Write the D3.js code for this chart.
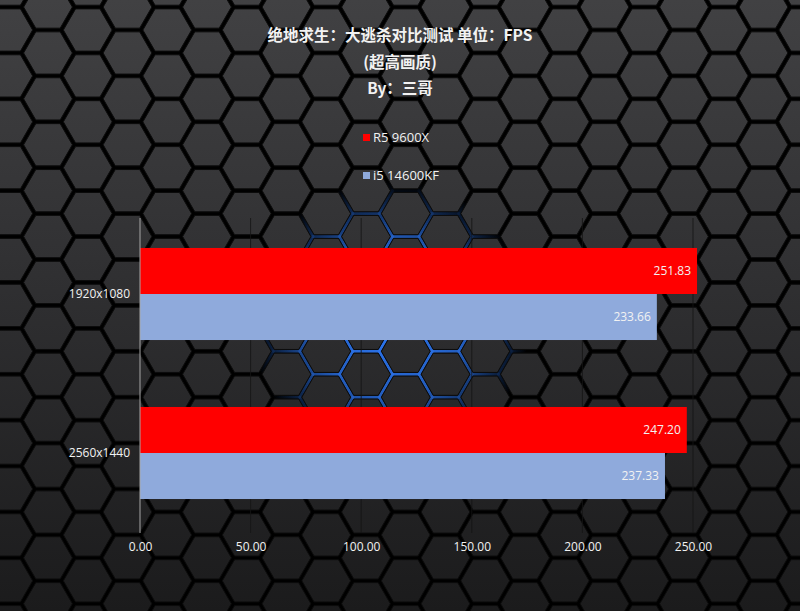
<!DOCTYPE html>
<html><head><meta charset="utf-8">
<script src="https://cdn.jsdelivr.net/npm/d3@7"></script>
<style>html,body{margin:0;padding:0;background:#222;}svg{display:block;}</style>
</head><body>
<svg id="chart" width="800" height="611"></svg>
<script>
const categories = ["1920x1080", "2560x1440"];
const seriesNames = ["R5 9600X", "i5 14600KF"];
const r5Values = [251.83, 247.20];
const i5Values = [233.66, 237.33];
const xTicks = [0, 50, 100, 150, 200, 250];
const titleLines = ["绝地求生：大逃杀对比测试 单位：FPS", "(超高画质)", "By：三哥"];
const colors = ["#ff0000", "#8faadc"];

const W = 800, H = 611;
const svg = d3.select("#chart");
const defs = svg.append("defs");

const bg = defs.append("linearGradient").attr("id","bgGrad").attr("gradientUnits","userSpaceOnUse")
  .attr("x1",0).attr("y1",0).attr("x2",0).attr("y2",H);
bg.append("stop").attr("offset","0%").attr("stop-color","#414143");
bg.append("stop").attr("offset","45%").attr("stop-color","#303032");
bg.append("stop").attr("offset","100%").attr("stop-color","#1b1b1c");
const glow = defs.append("radialGradient").attr("id","glowGrad").attr("gradientUnits","userSpaceOnUse")
  .attr("cx",390).attr("cy",320).attr("r",140);
glow.append("stop").attr("offset","0%").attr("stop-color","#2f7dff").attr("stop-opacity",0.85);
glow.append("stop").attr("offset","55%").attr("stop-color","#2a6ee0").attr("stop-opacity",0.6);
glow.append("stop").attr("offset","100%").attr("stop-color","#1d4f9e").attr("stop-opacity",0);

svg.append("rect").attr("width",W).attr("height",H).attr("fill","#000");

// hexagon background (flat-top)
const R = 26.5;
const hexPts = d3.range(6).map(i => [R*Math.cos(Math.PI/3*i), R*Math.sin(Math.PI/3*i)]);
const hexes = [];
const dx = 1.5*R, dy = Math.sqrt(3)*R;
for (let c = -1; c < W/dx + 2; c++) {
  for (let r = -1; r < H/dy + 2; r++) {
    hexes.push([48 + c*dx - dx, 30 + r*dy + ((c % 2 === 0) ? 0 : dy/2)]);
  }
}
const hexG = svg.append("g");
const hexLine = d3.line();
hexG.selectAll("path.glow").data(hexes.filter(h => Math.hypot(h[0]-390, (h[1]-320)*1.1) < 160))
  .join("path").attr("class","glow")
  .attr("d", h => hexLine(hexPts.map(p => [p[0]+h[0], p[1]+h[1]])) + "Z")
  .attr("fill","none").attr("stroke","url(#glowGrad)").attr("stroke-width",3);
hexG.selectAll("path.hex").data(hexes).join("path").attr("class","hex")
  .attr("d", h => hexLine(hexPts.map(p => [p[0]*0.92+h[0], p[1]*0.92+h[1]])) + "Z")
  .attr("fill","url(#bgGrad)").attr("stroke","#0c0c0c").attr("stroke-width",1)
  .attr("stroke-linejoin","round");

// scales
const x = d3.scaleLinear().domain([0, 250]).range([140, 693]);
const y = d3.scaleBand().domain(categories).range([214.5, 532.5]).paddingInner(0.421).paddingOuter(0.2105);
const ys = d3.scaleBand().domain(seriesNames).range([0, y.bandwidth()]);

// gridlines
svg.append("g").selectAll("line").data(xTicks.slice(1)).join("line")
  .attr("x1", d => x(d)).attr("x2", d => x(d)).attr("y1", 218).attr("y2", 533)
  .attr("stroke","#151515").attr("stroke-width",1).attr("opacity",0.8);

// bars
const data = categories.map((c, i) => ({cat: c, vals: [r5Values[i], i5Values[i]]}));
const groups = svg.append("g").selectAll("g").data(data).join("g")
  .attr("transform", d => `translate(0,${y(d.cat)})`);
groups.selectAll("rect").data(d => d.vals.map((v, j) => ({name: seriesNames[j], v, j})))
  .join("rect")
  .attr("x", x(0)).attr("y", d => ys(d.name))
  .attr("width", d => x(d.v) - x(0)).attr("height", ys.bandwidth())
  .attr("fill", d => colors[d.j]);
groups.selectAll("text").data(d => d.vals.map((v, j) => ({name: seriesNames[j], v, j})))
  .join("text")
  .attr("x", d => x(d.v) - 6).attr("y", d => ys(d.name) + ys.bandwidth()/2)
  .attr("dy","0.35em").attr("text-anchor","end")
  .attr("fill", "#f2f2f2").attr("font-family","'Open Sans','Noto Sans',sans-serif").attr("font-size",12)
  .text(d => d.v.toFixed(2));

// y axis
const yAxis = svg.append("g").attr("transform","translate(140,0)").call(d3.axisLeft(y).tickSize(0).tickPadding(10));
yAxis.select(".domain").attr("stroke","#a6a6a6").attr("d","M0,218V533");
yAxis.selectAll("text").attr("fill","#f2f2f2").attr("font-size",12).attr("font-family","'Open Sans','Noto Sans',sans-serif");

// x axis labels
const xAxis = svg.append("g").attr("transform","translate(0,533)")
  .call(d3.axisBottom(x).tickValues(xTicks).tickSize(0).tickPadding(9).tickFormat(d3.format(".2f")));
xAxis.select(".domain").remove();
xAxis.selectAll("text").attr("fill","#f2f2f2").attr("font-size",12).attr("font-family","'Open Sans','Noto Sans',sans-serif");

// title
svg.append("g").selectAll("text").data(titleLines).join("text")
  .attr("x", 400).attr("y", (d, i) => 41 + i*26.5).attr("text-anchor","middle")
  .attr("fill","#f2f2f2").attr("font-weight","bold").attr("font-size",15.5)
  .attr("font-family","'Noto Sans CJK SC',sans-serif").text(d => d);

// legend
const lg = svg.append("g").selectAll("g").data(seriesNames).join("g")
  .attr("transform", (d, i) => `translate(363,${137 + i*38})`);
lg.append("rect").attr("x",0).attr("y",-3).attr("width",7).attr("height",7).attr("fill",(d,i)=>colors[i]);
lg.append("text").attr("x",10).attr("y",0).attr("dy","0.35em").attr("fill","#f2f2f2")
  .attr("font-size",13).attr("font-family","'Open Sans','Noto Sans',sans-serif").text(d => d);
</script>
</body></html>
